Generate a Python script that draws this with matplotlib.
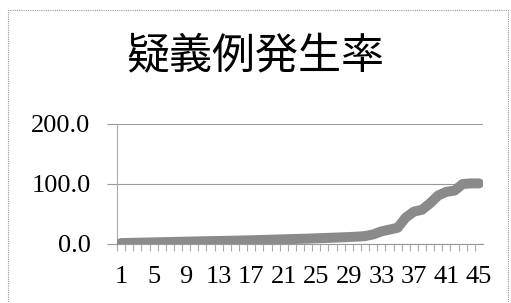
import matplotlib
matplotlib.use('Agg')
import matplotlib.pyplot as plt
from matplotlib.patches import Rectangle

# categories 1..45 and the rate
categories = list(range(1, 46))
rates = [1.5, 1.8, 2.1, 2.4, 2.7, 3.0, 3.3, 3.6, 3.9, 4.2,
         4.5, 4.8, 5.0, 5.3, 5.6, 5.9, 6.2, 6.6, 7.0, 7.4,
         7.8, 8.2, 8.6, 9.0, 9.5, 10.0, 10.5, 11.0, 11.6, 12.2,
         13.2, 16.0, 21.0, 24.0, 27.0, 44.0, 54.0, 57.0, 68.0, 81.0,
         87.0, 89.0, 100.0, 101.0, 101.0]
y_ticks = [0, 100, 200]
y_labels = ['0.0', '100.0', '200.0']
title = '疑義例発生率'

W, H = 511, 303
fig = plt.figure(figsize=(W / 100, H / 100), dpi=100)
ax = fig.add_axes([117 / W, 59 / H, 366 / W, 120 / H])

ax.plot(categories, rates, color='#8a8a8a', lw=7.2,
        solid_joinstyle='round', solid_capstyle='round', zorder=3)

ax.set_xlim(0.5, 45.5)
ax.set_ylim(0, 200)

# y axis: gridlines that stick out to the left like tick marks
ax.set_yticks(y_ticks)
ax.set_yticklabels(y_labels, family='Liberation Serif', fontsize=19)
ax.tick_params(axis='y', length=7, width=0.8, color='#999999', pad=12)
ax.grid(axis='y', color='#999999', lw=0.8)

# x axis: labels every 4th category, small marks between categories
ax.set_xticks(categories[::4])
ax.set_xticklabels([str(c) for c in categories[::4]], family='Liberation Serif', fontsize=19)
ax.set_xticks([c + 0.5 for c in categories[:-1]] + [0.5], minor=True)
ax.tick_params(axis='x', which='major', length=0, pad=16)
ax.tick_params(axis='x', which='minor', length=5, width=0.8, color='#aaaaaa')

for side in ['top', 'right']:
    ax.spines[side].set_visible(False)
ax.spines['left'].set_color('#aaaaaa')
ax.spines['bottom'].set_color('#999999')
ax.set_axisbelow(True)

fig.text(255 / W, 1 - 57 / H, title, family='Noto Sans CJK JP', fontsize=31,
         ha='center', va='center')

# dotted frame round the chart
fig.patches.append(Rectangle((8 / W, -0.02), 500 / W, 1 - 10 / H + 0.02,
                             transform=fig.transFigure, fill=False,
                             ec='#999999', lw=0.8, ls=(0, (1, 1))))

fig.savefig('out.png', dpi=100)
